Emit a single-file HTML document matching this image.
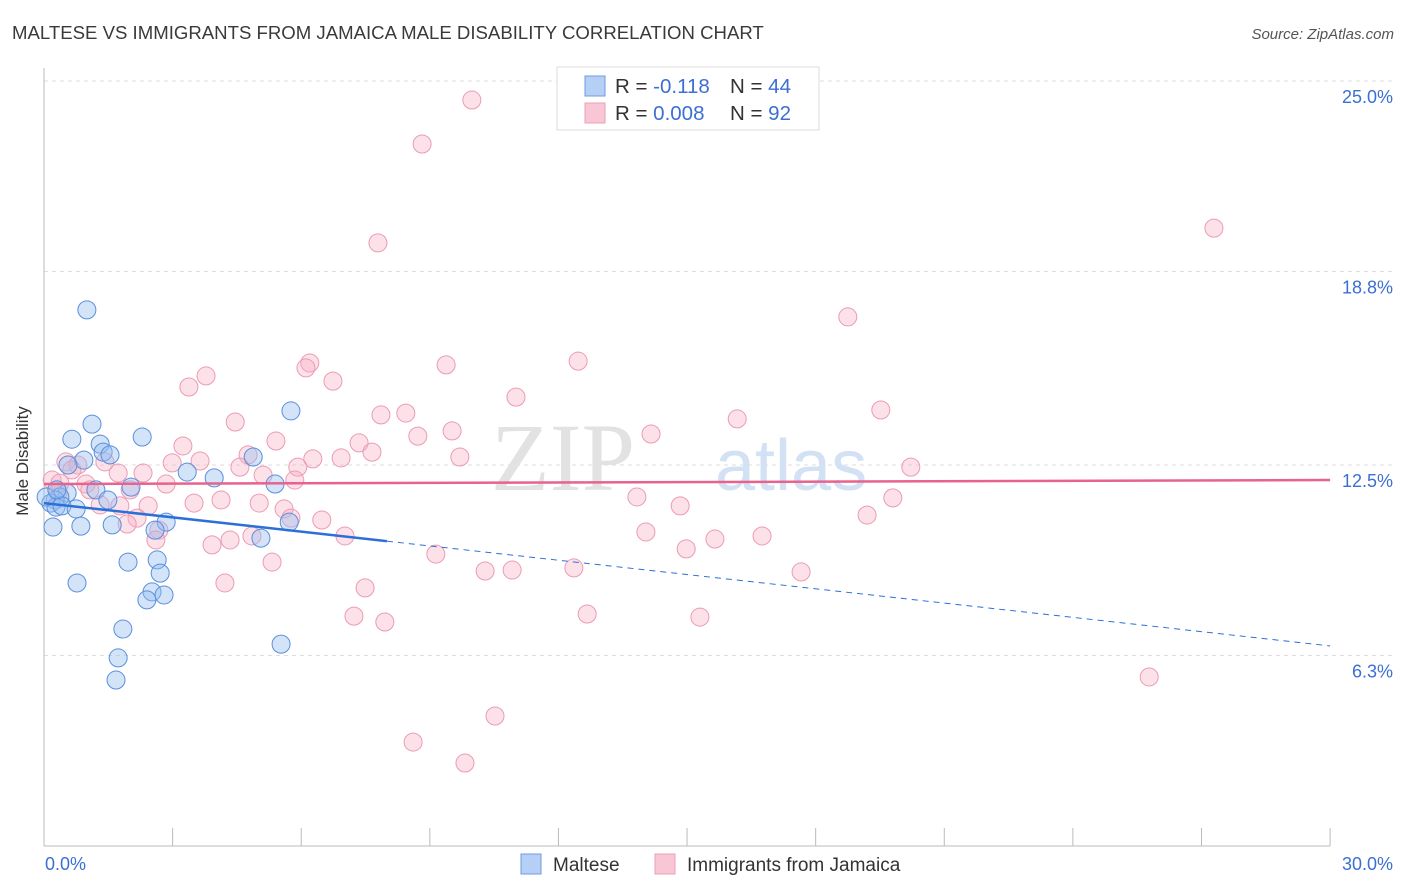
<!DOCTYPE html>
<html><head><meta charset="utf-8"><style>
body{margin:0;background:#fff;font-family:"Liberation Sans",sans-serif}
svg{display:block}
</style></head><body>
<svg id="chart" width="1406" height="892">
<text x="12" y="39" font-size="18.6" fill="#3a3a3a">MALTESE VS IMMIGRANTS FROM JAMAICA MALE DISABILITY CORRELATION CHART</text>
<text x="1394" y="39" font-size="15" font-style="italic" fill="#555" text-anchor="end">Source: ZipAtlas.com</text>
<g id="grid"></g>
<text x="635" y="490" font-size="96" font-family="Liberation Serif,serif" fill="#e2e2e2" text-anchor="end">ZIP</text>
<text x="715" y="490" font-size="72" fill="#d3e1f5">atlas</text>
<line x1="44" y1="68" x2="44" y2="846" stroke="#bbb"/>
<line x1="44" y1="846" x2="1330" y2="846" stroke="#bbb"/>
<g id="ticks"></g>
<g id="pts"></g>
<g id="trends"></g>
<text x="22" y="455" font-size="17" fill="#333" text-anchor="middle" transform="rotate(-90 28 455)">Male Disability</text>
<text x="45" y="870" font-size="18" fill="#3b6fd4">0.0%</text>
<text x="1393" y="870" font-size="18" fill="#3b6fd4" text-anchor="end">30.0%</text>
<g>
<rect x="557" y="67" width="262" height="63" fill="#fff" stroke="#ddd"/>
<rect x="585" y="76" width="20" height="20" fill="#b6d0f5" stroke="#6d9ae0"/>
<rect x="585" y="103" width="20" height="20" fill="#f9c6d5" stroke="#eba0b8"/>
<text x="615" y="93" font-size="20.5" fill="#333">R = <tspan fill="#3b6fd4">-0.118</tspan><tspan x="730">N = </tspan><tspan fill="#3b6fd4">44</tspan></text>
<text x="615" y="120" font-size="20.5" fill="#333">R = <tspan fill="#3b6fd4">0.008</tspan><tspan x="730">N = </tspan><tspan fill="#3b6fd4">92</tspan></text>
</g>
<g>
<rect x="521" y="854" width="20" height="20" fill="#b6d0f5" stroke="#6d9ae0"/>
<text x="553" y="871" font-size="19" fill="#333">Maltese</text>
<rect x="655" y="854" width="20" height="20" fill="#f9c6d5" stroke="#eba0b8"/>
<text x="687" y="871" font-size="19" fill="#333">Immigrants from Jamaica</text>
</g>
</svg>
<script>
const yTicks=[25.0,18.8,12.5,6.3];
const yTickLabels=["25.0%","18.8%","12.5%","6.3%"];
const maltX=[1.0,1.12,0.65,1.31,2.29,5.76,1.38,1.54,0.93,0.56,3.34,3.97,4.88,5.39,2.03,1.21,0.54,0.37,0.26,0.16,0.28,0.42,0.75,0.21,0.86,1.59,2.85,2.59,5.72,5.06,1.96,2.64,2.71,0.77,2.52,2.80,2.40,1.84,1.73,1.68,5.53,0.05,1.49,0.3];
const maltY=[17.55,13.83,13.34,13.18,13.41,14.26,12.92,12.83,12.66,12.5,12.27,12.08,12.76,11.88,11.78,11.69,11.59,11.46,11.36,11.26,11.13,11.17,11.07,10.48,10.51,10.55,10.64,10.38,10.64,10.12,9.34,9.41,8.98,8.66,8.37,8.27,8.11,7.16,6.22,5.50,6.67,11.46,11.36,11.69];
const jamX=[9.98,8.82,7.79,27.29,18.75,12.46,9.38,6.20,6.11,6.74,3.78,3.38,11.01,8.44,7.86,19.52,16.17,4.46,8.72,9.52,14.16,3.24,5.41,7.35,7.65,9.70,4.76,6.27,6.93,2.99,3.64,20.22,0.51,0.79,1.42,4.57,5.92,1.73,2.31,5.11,5.85,2.85,0.19,0.37,0.98,1.07,2.01,4.13,3.50,5.02,13.83,19.80,14.84,2.43,1.31,1.77,5.60,5.76,6.48,19.20,2.17,1.94,2.68,4.85,4.34,3.92,7.02,14.04,15.65,16.75,14.98,9.14,5.32,10.29,10.92,12.36,17.66,7.49,4.22,12.67,15.30,7.23,7.95,25.78,10.52,8.61,9.82,2.61,0.33,0.65];
const jamY=[24.38,22.95,19.73,20.21,17.32,15.88,15.76,15.82,15.66,15.23,15.40,15.04,14.71,14.19,14.13,14.29,14.0,13.90,13.44,13.61,13.51,13.12,13.28,13.22,12.92,12.76,12.83,12.70,12.73,12.57,12.63,12.43,12.6,12.5,12.6,12.43,12.43,12.24,12.24,12.17,12.01,11.88,12.01,11.91,11.88,11.69,11.69,11.36,11.26,11.26,11.46,11.43,11.17,11.17,11.2,11.17,11.07,10.77,10.71,10.87,10.77,10.58,10.38,10.19,10.06,9.90,10.19,10.32,10.09,10.19,9.77,9.60,9.34,9.05,9.08,9.15,9.02,8.50,8.66,7.65,7.55,7.58,7.39,5.60,4.33,3.48,2.80,10.06,11.62,12.34];
const maltTrend=[11.26,6.61];
const jamTrend=[11.88,12.01];
const maltSolidEnd=8.0;
const NS='http://www.w3.org/2000/svg';
const sx=v=>44+v*42.87;
const sy=v=>465-(v-12.5)*30.72;
function mk(tag,attrs,parent){const e=document.createElementNS(NS,tag);for(const k in attrs)e.setAttribute(k,attrs[k]);parent.appendChild(e);return e;}
const grid=document.getElementById('grid');
yTicks.forEach((t,i)=>{
 const l=mk('line',{x1:44,x2:1394,y1:sy(t),y2:sy(t),stroke:'#ddd','stroke-dasharray':'4,4'},grid);
 
 
 const tx=mk('text',{x:1393,y:sy(t)+22,'font-size':18,fill:'#3b6fd4','text-anchor':'end'},grid);
 tx.textContent=yTickLabels[i];
 
 
});
const ticks=document.getElementById('ticks');
for(let i=0;i<=10;i++){const v=i*3;const l=mk('line',{x1:sx(v),x2:sx(v),y1:828,y2:846,stroke:'#bbb'},ticks);
 
 }
const pts=document.getElementById('pts');
jamX.forEach((x,i)=>{const c=mk('circle',{cx:sx(x),cy:sy(jamY[i]),r:9,fill:'rgba(248,175,198,0.38)',stroke:'#eb9bb5','stroke-width':1},pts);
 
 });
maltX.forEach((x,i)=>{const c=mk('circle',{cx:sx(x),cy:sy(maltY[i]),r:9,fill:'rgba(150,190,240,0.42)',stroke:'#5a8fdc','stroke-width':1},pts);
 
 });
const tr=document.getElementById('trends');
const mAt=v=>maltTrend[0]+(maltTrend[1]-maltTrend[0])*v/30;
let a=mk('line',{x1:sx(0),y1:sy(mAt(0)),x2:sx(maltSolidEnd),y2:sy(mAt(maltSolidEnd)),stroke:'#2c6fd6','stroke-width':2.5},tr);


let b=mk('line',{x1:sx(maltSolidEnd),y1:sy(mAt(maltSolidEnd)),x2:sx(30),y2:sy(mAt(30)),stroke:'#2c6fd6','stroke-width':1,'stroke-dasharray':'6,5'},tr);


let c=mk('line',{x1:sx(0),y1:sy(jamTrend[0]),x2:sx(30),y2:sy(jamTrend[1]),stroke:'#e8628e','stroke-width':2.5},tr);


</script>
</body></html>
